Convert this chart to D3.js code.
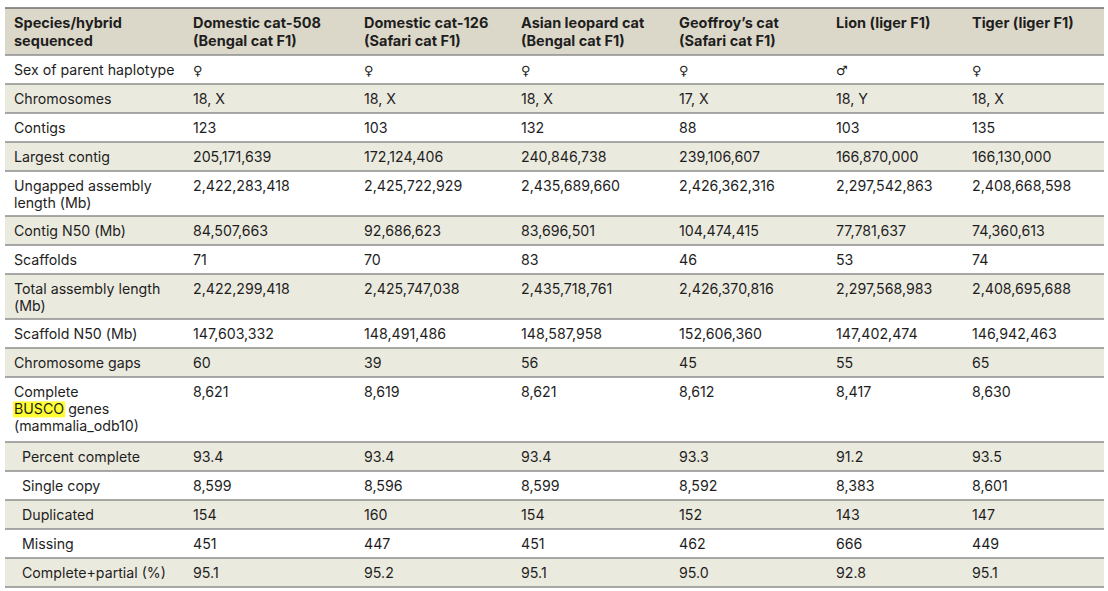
<!DOCTYPE html>
<html><head><meta charset="utf-8">
<script src="https://cdn.jsdelivr.net/npm/d3@7"></script>
<style>
html,body{margin:0;padding:0;background:#fff;}
svg{display:block;}
</style></head>
<body>
<svg id="chart" width="1108" height="591"></svg>
<script>
// ---- data ----
const headerLabel = ["Species/hybrid", "sequenced"];
const columns = [
  ["Domestic cat-508", "(Bengal cat F1)"],
  ["Domestic cat-126", "(Safari cat F1)"],
  ["Asian leopard cat", "(Bengal cat F1)"],
  ["Geoffroy\u2019s cat", "(Safari cat F1)"],
  ["Lion (liger F1)"],
  ["Tiger (liger F1)"]
];
const rowLabels = [
  ["Sex of parent haplotype"],
  ["Chromosomes"],
  ["Contigs"],
  ["Largest contig"],
  ["Ungapped assembly", "length (Mb)"],
  ["Contig N50 (Mb)"],
  ["Scaffolds"],
  ["Total assembly length", "(Mb)"],
  ["Scaffold N50 (Mb)"],
  ["Chromosome gaps"],
  ["Complete", "BUSCO genes", "(mammalia_odb10)"],
  ["Percent complete"],
  ["Single copy"],
  ["Duplicated"],
  ["Missing"],
  ["Complete+partial (%)"]
];
const subRow = [false,false,false,false,false,false,false,false,false,false,false,true,true,true,true,true];
const domesticCat508 = ["\u2640","18, X","123","205,171,639","2,422,283,418","84,507,663","71","2,422,299,418","147,603,332","60","8,621","93.4","8,599","154","451","95.1"];
const domesticCat126 = ["\u2640","18, X","103","172,124,406","2,425,722,929","92,686,623","70","2,425,747,038","148,491,486","39","8,619","93.4","8,596","160","447","95.2"];
const asianLeopardCat = ["\u2640","18, X","132","240,846,738","2,435,689,660","83,696,501","83","2,435,718,761","148,587,958","56","8,621","93.4","8,599","154","451","95.1"];
const geoffroysCat = ["\u2640","17, X","88","239,106,607","2,426,362,316","104,474,415","46","2,426,370,816","152,606,360","45","8,612","93.3","8,592","152","462","95.0"];
const lion = ["\u2642","18, Y","103","166,870,000","2,297,542,863","77,781,637","53","2,297,568,983","147,402,474","55","8,417","91.2","8,383","143","666","92.8"];
const tiger = ["\u2640","18, X","135","166,130,000","2,408,668,598","74,360,613","74","2,408,695,688","146,942,463","65","8,630","93.5","8,601","147","449","95.1"];
const seriesValues = [domesticCat508, domesticCat126, asianLeopardCat, geoffroysCat, lion, tiger];

// ---- layout ----
(function draw() {
const svg = d3.select("#chart");
const FONT = "Inter, 'Noto Sans', sans-serif";
const x0 = 5, x1 = 1104, y0 = 8;
const lineH = 17.4;
const rowH = d3.scaleOrdinal().domain([1, 2, 3]).range([29, 45, 65]);
const headerH = 47;

const colX = d3.scaleOrdinal()
  .domain(d3.range(-1, columns.length))
  .range([14, 193, 364, 521, 679, 836, 972]);

const heights = [headerH].concat(rowLabels.map(r => rowH(r.length)));
const ys = [y0].concat(Array.from(d3.cumsum(heights), v => y0 + v));
const y = d3.scaleOrdinal().domain(d3.range(-1, rowLabels.length + 1)).range(ys);

svg.append("rect").attr("x", x0).attr("y", y(-1)).attr("width", x1-x0)
  .attr("height", heights[0]).attr("fill", "#dcd8c9");

svg.selectAll("rect.row").data(rowLabels).join("rect")
  .attr("class","row")
  .attr("x", x0).attr("width", x1-x0)
  .attr("y", (d,i) => y(i)).attr("height", (d,i) => heights[i+1])
  .attr("fill", (d,i) => i % 2 === 1 ? "#ebeadf" : "#ffffff");

svg.selectAll("line.sep").data(d3.range(-1, rowLabels.length + 1)).join("line")
  .attr("class","sep")
  .attr("x1", x0).attr("x2", x1)
  .attr("y1", d => y(d)).attr("y2", d => y(d))
  .attr("stroke", d => d === -1 ? "#6e6e6e" : "#8c8c8c")
  .attr("stroke-width", 1.5);

function multiline(g, lines, x, yy, weight, size, lh) {
  const t = g.append("text").attr("x", x).attr("y", yy)
    .attr("font-family", FONT).attr("font-size", size).attr("font-weight", weight)
    .attr("fill", "#1e1e1e");
  lines.forEach((l, k) => t.append("tspan").attr("x", x).attr("dy", k === 0 ? 0 : lh).text(l));
  return t;
}
const firstBase = 19.5;
multiline(svg, headerLabel, colX(-1), y(-1) + firstBase, 700, 14.5, 18);
columns.forEach((c, j) => multiline(svg, c, colX(j), y(-1) + firstBase, 700, 14.5, 18));

rowLabels.forEach((r, i) => {
  const x = colX(-1) + (subRow[i] ? 8 : 0);
  if (r[1] === "BUSCO genes") {
    const yy = y(i) + firstBase;
    const t = svg.append("text").attr("font-family", FONT).attr("font-size", 14.2).attr("fill", "#1e1e1e");
    t.append("tspan").attr("x", x).attr("y", yy).text(r[0]);
    const b = t.append("tspan").attr("x", x).attr("y", yy + lineH).text("BUSCO");
    t.append("tspan").text(" genes");
    t.append("tspan").attr("x", x).attr("y", yy + 2*lineH).text(r[2]);
    const bw = b.node().getComputedTextLength();
    svg.insert("rect", "text").attr("x", x - 1).attr("y", yy + lineH - 12.5).attr("width", bw + 2).attr("height", 16).attr("fill", "#ffff33");
  } else {
    multiline(svg, r, x, y(i) + firstBase, 400, 14.2, lineH);
  }
});

seriesValues.forEach((vals, j) => {
  svg.selectAll("text.v" + j).data(vals).join("text")
    .attr("class", "v" + j)
    .attr("x", colX(j)).attr("y", (d, i) => y(i) + firstBase)
    .attr("font-family", (d) => (d === "\u2640" || d === "\u2642") ? "'DejaVu Sans', sans-serif" : FONT)
    .attr("font-size", (d) => (d === "\u2640" || d === "\u2642") ? 13 : 14.2)
    .attr("fill", "#1e1e1e")
    .text(d => d);
});
})();
</script>
</body></html>
